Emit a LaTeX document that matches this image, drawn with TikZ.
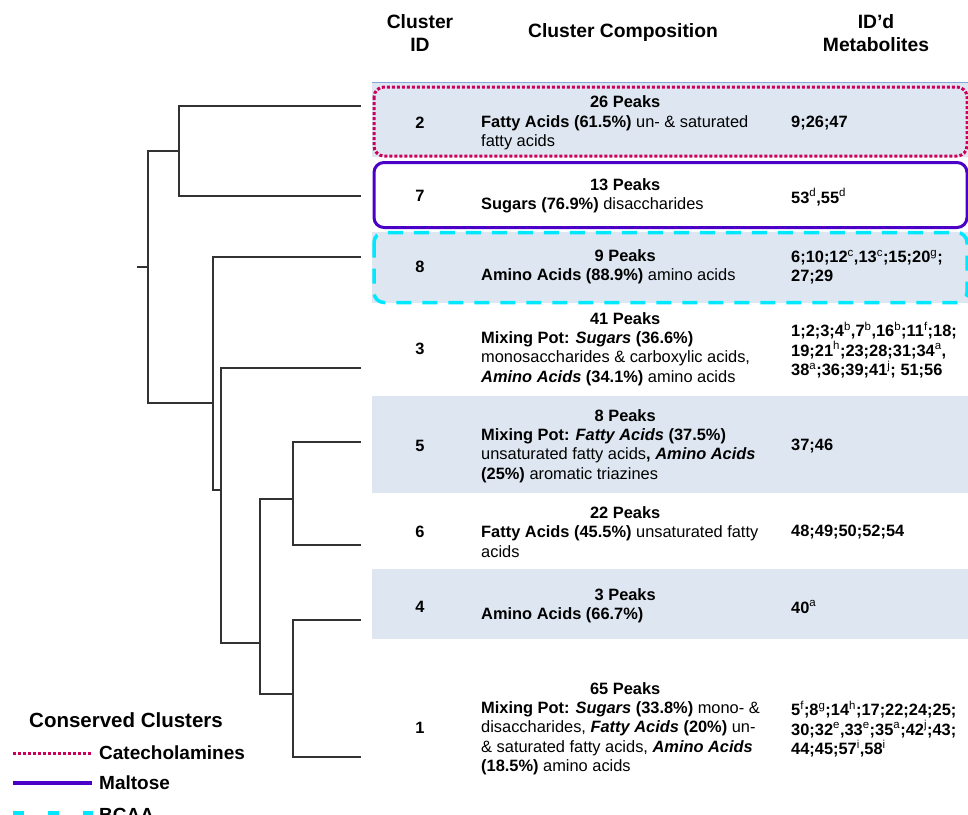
\documentclass[tikz,border=0pt]{standalone}
\usepackage{fontspec}
\setmainfont{Liberation Sans}
\definecolor{bandblue}{RGB}{222,231,241}
\definecolor{catcol}{RGB}{204,0,90}
\definecolor{maltcol}{RGB}{75,0,200}
\definecolor{bcaacol}{RGB}{0,232,255}
\definecolor{dendro}{RGB}{50,50,50}
\definecolor{topline}{RGB}{130,165,215}
\newcommand{\sups}[1]{\textsuperscript{\mdseries #1}}
\begin{document}
\begin{tikzpicture}[x=1pt,y=-1pt,
  hdr/.style={font=\fontsize{19.3}{23}\selectfont\bfseries, align=center, inner sep=0},
  cid/.style={font=\fontsize{16.4}{19.3}\selectfont\bfseries, inner sep=0},
  comp/.style={font=\fontsize{16.4}{19.3}\selectfont, align=left, anchor=west, inner sep=0},
  meta/.style={font=\fontsize{16.4}{19.3}\selectfont\bfseries, align=left, anchor=west, inner sep=0},
  dline/.style={draw=dendro, line width=2.5pt},
  band/.style={fill=bandblue},
  catbox/.style={draw=catcol, line width=3pt, dash pattern=on 3pt off 2pt, rounded corners=10pt},
  maltbox/.style={draw=maltcol, line width=3pt, rounded corners=10pt},
  bcaabox/.style={draw=bcaacol, line width=3.5pt, dash pattern=on 15pt off 11pt, rounded corners=10pt},
  legtitle/.style={font=\fontsize{20.5}{24}\selectfont\bfseries, anchor=west, inner sep=0},
  legtext/.style={font=\fontsize{19}{23}\selectfont\bfseries, anchor=west, inner sep=0},
]
\useasboundingbox (0,0) rectangle (968,814);
\clip (0,0) rectangle (968,814);
\fill[white] (0,0) rectangle (968,814);

% bands
\fill[band] (372,83) rectangle (968,157);
\fill[band] (372,232) rectangle (968,303);
\fill[band] (372,396) rectangle (968,493);
\fill[band] (372,569) rectangle (968,639);
\draw[topline, line width=1.5pt] (372,82.5) -- (968,82.5);

% conserved cluster boxes
\draw[catbox] (374,87) rectangle (967,156);
\draw[maltbox] (374,162.5) rectangle (967,227.5);
\draw[bcaabox] (374,232.5) rectangle (967,302.5);

% headers
\node[hdr] (hid) at (420,33.5) {Cluster\\ID};
\node[hdr] (hcomp) at (623,33) {Cluster Composition};
\node[hdr] (hmeta) at (876,33.5) {ID'd\\Metabolites};

% cluster ids
\node[cid] (id2) at (420,123) {2};
\node[cid] (id7) at (420,196) {7};
\node[cid] (id8) at (420,267) {8};
\node[cid] (id3) at (420,349) {3};
\node[cid] (id5) at (420,446) {5};
\node[cid] (id6) at (420,532) {6};
\node[cid] (id4) at (420,607) {4};
\node[cid] (id1) at (420,728) {1};

% compositions
\node[comp] (c2) at (481,123) {\makebox[288pt][c]{\bfseries 26 Peaks}\\\textbf{Fatty Acids (61.5\%)} un- \& saturated\\fatty acids};
\node[comp] (c7) at (481,196) {\makebox[288pt][c]{\bfseries 13 Peaks}\\\textbf{Sugars (76.9\%)} disaccharides};
\node[comp] (c8) at (481,267) {\makebox[288pt][c]{\bfseries 9 Peaks}\\\textbf{Amino Acids (88.9\%)} amino acids};
\node[comp] (c3) at (481,349) {\makebox[288pt][c]{\bfseries 41 Peaks}\\\textbf{Mixing Pot: \textit{Sugars} (36.6\%)}\\monosaccharides \& carboxylic acids,\\\textbf{\textit{Amino Acids} (34.1\%)} amino acids};
\node[comp] (c5) at (481,446) {\makebox[288pt][c]{\bfseries 8 Peaks}\\\textbf{Mixing Pot: \textit{Fatty Acids} (37.5\%)}\\unsaturated fatty acids\textbf{, \textit{Amino Acids}}\\\textbf{(25\%)} aromatic triazines};
\node[comp] (c6) at (481,532) {\makebox[288pt][c]{\bfseries 22 Peaks}\\\textbf{Fatty Acids (45.5\%)} unsaturated fatty\\acids};
\node[comp] (c4) at (481,606) {\makebox[288pt][c]{\bfseries 3 Peaks}\\\textbf{Amino Acids (66.7\%)}};
\node[comp] (c1) at (481,728.5) {\makebox[288pt][c]{\bfseries 65 Peaks}\\\textbf{Mixing Pot: \textit{Sugars} (33.8\%)} mono- \&\\disaccharides, \textbf{\textit{Fatty Acids} (20\%)} un-\\\& saturated fatty acids, \textbf{\textit{Amino Acids}}\\\textbf{(18.5\%)} amino acids};

% metabolites
\node[meta] (m2) at (791,123) {9;26;47};
\node[meta] (m7) at (791,197) {53\sups{d},55\sups{d}};
\node[meta] (m8) at (791,267) {6;10;12\sups{c},13\sups{c};15;20\sups{g};\\27;29};
\node[meta] (m3) at (791,350) {1;2;3;4\sups{b},7\sups{b},16\sups{b};11\sups{f};18;\\19;21\sups{h};23;28;31;34\sups{a},\\38\sups{a};36;39;41\sups{j}; 51;56};
\node[meta] (m5) at (791,446) {37;46};
\node[meta] (m6) at (791,532) {48;49;50;52;54};
\node[meta] (m4) at (791,607) {40\sups{a}};
\node[meta] (m1) at (791,729) {5\sups{f};8\sups{g};14\sups{h};17;22;24;25;\\30;32\sups{e},33\sups{e};35\sups{a};42\sups{j};43;\\44;45;57\sups{i},58\sups{i}};

% dendrogram
\coordinate (L2) at (361,106);
\coordinate (L7) at (361,196);
\coordinate (L8) at (361,257);
\coordinate (L3) at (361,368);
\coordinate (L5) at (361,442);
\coordinate (L6) at (361,545);
\coordinate (L4) at (361,620);
\coordinate (L1) at (361,757);
\coordinate (n27) at (179,151);
\coordinate (root) at (148,267);
\coordinate (stub) at (137,267);
\coordinate (n8) at (213,403);
\coordinate (n3) at (221,490);
\coordinate (nz) at (260,643);
\coordinate (n56) at (293,499);
\coordinate (n41) at (293,694);
\draw[dline] (L2) -| (n27) |- (L7);
\draw[dline] (n27) -| (root) |- (n8);
\draw[dline] (L8) -| (n8) |- (n3);
\draw[dline] (L3) -| (n3) |- (nz);
\draw[dline] (n56) -| (nz) |- (n41);
\draw[dline] (L5) -| (n56) |- (L6);
\draw[dline] (L4) -| (n41) |- (L1);
\draw[dline] (stub) -- (root);

% legend
\node[legtitle] (lt) at (29,720) {Conserved Clusters};
\coordinate (ca) at (13,753);
\coordinate (cb) at (92,753);
\draw[draw=catcol, line width=3pt, dash pattern=on 3pt off 2pt] (ca) -- (cb);
\node[legtext] (lcat) at (99,753) {Catecholamines};
\coordinate (ma) at (13,783);
\coordinate (mb) at (92,783);
\draw[draw=maltcol, line width=3.5pt] (ma) -- (mb);
\node[legtext] (lmal) at (99,783) {Maltose};
\coordinate (ba) at (13,813);
\coordinate (bb) at (93,813);
\draw[draw=bcaacol, line width=3.5pt, dash pattern=on 11pt off 24pt] (ba) -- (bb);
\node[legtext, anchor=base west] (lbc) at (99,821) {BCAA};
\end{tikzpicture}
\end{document}
